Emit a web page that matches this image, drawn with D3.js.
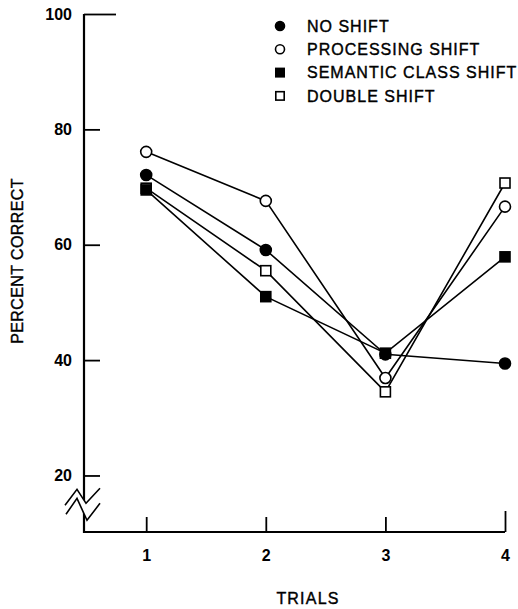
<!DOCTYPE html>
<html>
<head>
<meta charset="utf-8">
<script src="https://cdn.jsdelivr.net/npm/d3@7"></script>
<style>
  body { margin: 0; background: #fff; }
  text { font-family: "Liberation Sans", Arial, sans-serif; fill: #000; }
</style>
</head>
<body>
<div id="chart"></div>
<script>
const w = 518;
const h = 609;

// data
const trials = [1, 2, 3, 4];
const yTicks = [20, 40, 60, 80, 100];
const seriesNames = ['NO SHIFT', 'PROCESSING SHIFT', 'SEMANTIC CLASS SHIFT', 'DOUBLE SHIFT'];
const noShift = [72.1, 59.1, 41.0, 39.4];
const processingShift = [76.1, 67.6, 36.9, 66.6];
const semanticShift = [69.5, 51.0, 41.2, 57.9];
const doubleShift = [69.8, 55.5, 34.5, 70.7];

const series = [
    { name: seriesNames[0], values: noShift, shape: 'circle', filled: true },
    { name: seriesNames[1], values: processingShift, shape: 'circle', filled: false },
    { name: seriesNames[2], values: semanticShift, shape: 'square', filled: true },
    { name: seriesNames[3], values: doubleShift, shape: 'square', filled: false }
];

const svg = d3.select('#chart').append('svg').attr('width', w).attr('height', h);

const xScale = d3.scaleLinear().domain([0.48, 4]).range([84, 505]);
const yScale = d3.scaleLinear().domain([10.2, 100]).range([532, 14]);

// y axis
const yAxis = svg.append('g')
    .attr('transform', `translate(${xScale(0.48)},0)`)
    .call(d3.axisLeft(yScale).tickValues(yTicks).tickFormat(d3.format('d')).tickSize(-16).tickPadding(0).tickSizeOuter(0));
yAxis.select('.domain').remove();
yAxis.selectAll('.tick line').attr('stroke', '#000').attr('stroke-width', 1.8);
yAxis.selectAll('.tick').filter(d => d === 100).select('line').attr('x2', 32);
yAxis.selectAll('.tick text')
    .attr('x', -12)
    .attr('font-size', 16)
    .attr('font-weight', 'bold')
    .attr('font-family', '"Liberation Sans", Arial, sans-serif');

// x axis
const xAxis = svg.append('g')
    .attr('transform', `translate(0,${yScale(10.2)})`)
    .call(d3.axisBottom(xScale).tickValues(trials).tickFormat(d3.format('d')).tickSize(-15).tickPadding(0).tickSizeOuter(0));
xAxis.select('.domain').remove();
xAxis.selectAll('.tick line').attr('stroke', '#000').attr('stroke-width', 1.8);
xAxis.selectAll('.tick').filter(d => d === 4).select('line').attr('y2', -21);
xAxis.selectAll('.tick text')
    .attr('y', 18)
    .attr('font-size', 16)
    .attr('font-weight', 'bold')
    .attr('font-family', '"Liberation Sans", Arial, sans-serif');

// axis lines
const x0 = xScale(0.48);
const yBottom = yScale(10.2);
svg.append('path')
    .attr('d', `M${x0},${yScale(100)}V${yBottom}H${xScale(4)}`)
    .attr('fill', 'none')
    .attr('stroke', '#000')
    .attr('stroke-width', 2.2);

// axis break
const yb = yScale(15);
svg.append('path')
    .attr('d', `M${x0 - 19},${yb + 1} L${x0 - 7},${yb - 15} L${x0 + 2},${yb - 1} L${x0 + 16},${yb - 16} L${x0 + 16},${yb} L${x0 + 3},${yb + 16} L${x0 - 7},${yb - 6} L${x0 - 18},${yb + 10} Z`)
    .attr('fill', '#fff');
const zig = [
    [[x0 - 19, yb + 1], [x0 - 7, yb - 15], [x0 + 2, yb - 1], [x0 + 16, yb - 16]],
    [[x0 - 18, yb + 10], [x0 - 7, yb - 6], [x0 + 3, yb + 16], [x0 + 16, yb - 1]]
];
svg.selectAll('.zig').data(zig).enter().append('path')
    .attr('d', d3.line())
    .attr('fill', 'none')
    .attr('stroke', '#000')
    .attr('stroke-width', 1.6);

// lines
const line = d3.line().x((d, i) => xScale(trials[i])).y(d => yScale(d));
svg.selectAll('.series-line').data(series).enter().append('path')
    .attr('d', d => line(d.values))
    .attr('fill', 'none')
    .attr('stroke', '#000')
    .attr('stroke-width', 1.6);

const drawMarker = (g, shape, filled, x, y, r) => {
    if (shape === 'circle') {
        g.append('circle').attr('cx', x).attr('cy', y).attr('r', r)
            .attr('fill', filled ? '#000' : '#fff').attr('stroke', '#000').attr('stroke-width', 1.6);
    } else {
        g.append('rect').attr('x', x - r).attr('y', y - r).attr('width', 2 * r).attr('height', 2 * r)
            .attr('fill', filled ? '#000' : '#fff').attr('stroke', '#000').attr('stroke-width', 1.6);
    }
};

// markers, drawn so the filled square sits on top
const order = [3, 0, 1, 2];
order.forEach(k => {
    const s = series[k];
    const g = svg.append('g');
    s.values.forEach((v, i) => drawMarker(g, s.shape, s.filled, xScale(trials[i]), yScale(v), s.shape === 'circle' ? 5.5 : 5));
});

// legend
const legend = svg.append('g');
series.forEach((s, i) => {
    const ly = 26 + i * 23.3;
    drawMarker(legend, s.shape, s.filled, 280, ly, s.shape === 'circle' ? 4.5 : 4.2);
    legend.append('text')
        .attr('x', 307)
        .attr('y', ly)
        .attr('dy', '0.36em')
        .attr('font-size', 16)
        .attr('letter-spacing', 1)
        .attr('stroke', '#000')
        .attr('stroke-width', 0.4)
        .text(s.name);
});

// axis titles
svg.append('text')
    .attr('transform', 'translate(17,261) rotate(-90)')
    .attr('dy', '0.36em')
    .attr('text-anchor', 'middle')
    .attr('font-size', 16)
    .attr('letter-spacing', 0.4)
    .attr('stroke', '#000')
    .attr('stroke-width', 0.4)
    .text('PERCENT CORRECT');

svg.append('text')
    .attr('x', 308)
    .attr('y', 598)
    .attr('dy', '0.36em')
    .attr('text-anchor', 'middle')
    .attr('font-size', 16)
    .attr('letter-spacing', 1.2)
    .attr('stroke', '#000')
    .attr('stroke-width', 0.4)
    .text('TRIALS');
</script>
</body>
</html>
